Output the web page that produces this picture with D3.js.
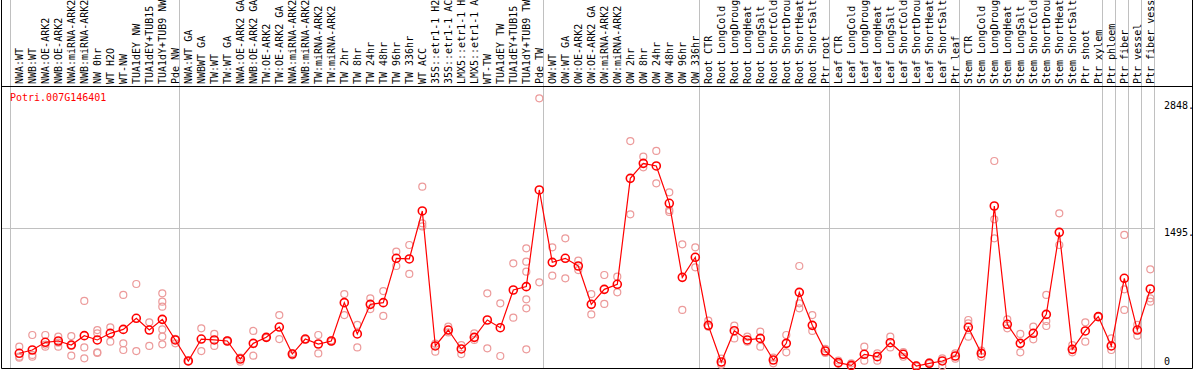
<!DOCTYPE html>
<html>
<head>
<meta charset="utf-8">
<script src="https://d3js.org/d3.v7.min.js"></script>
<style>
body { margin: 0; background: #fff; }
text { font-family: "DejaVu Sans Mono", monospace; font-size: 10px; }
</style>
</head>
<body>
<svg id="chart" width="1194" height="370"></svg>
<script>
// sample labels, left to right
var samples = [
  "NWA:WT", "NWB:WT", "NWA:OE-ARK2", "NWB:OE-ARK2", "NWA:miRNA-ARK2", "NWB:miRNA-ARK2",
  "NW 0hr", "WT H2O", "WT-NW", "TUA1dEY NW", "TUA1dEY+TUB15", "TUA1dY+TUB9 NW", "Pde NW",
  "NWA:WT GA", "NWBWT GA", "TW:WT", "TW:WT GA", "NWA:OE-ARK2 GA", "NWB:OE-ARK2 GA",
  "TW:OE-ARK2", "TW:OE-ARK2 GA", "NWA:miRNA-ARK2 GA", "NWB:miRNA-ARK2 GA", "TW:miRNA-ARK2",
  "TW:miRNA-ARK2 GA", "TW 2hr", "TW 8hr", "TW 24hr", "TW 48hr", "TW 96hr", "TW 336hr",
  "WT ACC", "35S::etr1-1 H2O", "35S::etr1-1 ACC", "LMX5::etr1-1 H2O", "LMX5::etr1-1 ACC",
  "WT-TW", "TUA1dEY TW", "TUA1dEY+TUB15 TW", "TUA1dY+TUB9 TW", "Pde TW",
  "OW:WT", "OW:WT GA", "OW:OE-ARK2", "OW:OE-ARK2 GA", "OW:miRNA-ARK2", "OW:miRNA-ARK2 GA",
  "OW 2hr", "OW 8hr", "OW 24hr", "OW 48hr", "OW 96hr", "OW 336hr",
  "Root CTR", "Root LongCold", "Root LongDrought", "Root LongHeat", "Root LongSalt",
  "Root ShortCold", "Root ShortDrought", "Root ShortHeat", "Root ShortSalt", "Ptr root",
  "Leaf CTR", "Leaf LongCold", "Leaf LongDrought", "Leaf LongHeat", "Leaf LongSalt",
  "Leaf ShortCold", "Leaf ShortDrought", "Leaf ShortHeat", "Leaf ShortSalt", "Ptr leaf",
  "Stem CTR", "Stem LongCold", "Stem LongDrought", "Stem LongHeat", "Stem LongSalt",
  "Stem ShortCold", "Stem ShortDrought", "Stem ShortHeat", "Stem ShortSalt", "Ptr shoot",
  "Ptr xylem", "Ptr phloem", "Ptr fiber", "Ptr vessel", "Ptr fiber vessel"
];

// index of the first sample of each group (a grey line is drawn before it)
var groupStarts = [0, 13, 41, 53, 63, 73, 84, 85, 86, 87, 88];

// mean expression per sample
var means = [
  157, 192, 274, 288, 245, 345, 299, 370, 412, 530, 405, 519, 299,
  75, 309, 299, 288, 96, 263, 327, 437, 149, 309, 256, 288, 697, 363, 679, 697,
  1170, 1163, 1675, 235, 405, 203, 327, 512, 430, 832, 868, 1899,
  1127, 1170, 1088, 679, 839, 893, 2023, 2183, 2155, 1757, 967, 1181,
  455, 64, 398, 299, 316, 85, 263, 807, 455, 181,
  57, 28, 146, 121, 270, 146, 21, 50, 75, 128,
  434, 156, 1728, 466, 263, 370, 572, 1447, 199, 395, 548,
  235, 957, 405, 843
];

// replicate values per sample
var reps = [
  [227, 121, 110], [352, 139, 121], [352, 227, 250], [334, 227, 270], [341, 131, 245],
  [715, 220, 103], [405, 370, 167, 160], [434, 281], [779, 263, 192], [896, 181],
  [487, 235], [797, 707, 654, 412, 334, 253], [310, 263],
  [75, 70], [423, 181], [363, 235], [295, 285], [68, 110], [395, 131],
  [330, 322], [565, 309], [160, 135], [309, 305], [352, 156],
  [295, 282], [789, 565], [459, 220], [743, 629], [821, 555],
  [1241, 1088], [1312, 1003], [1934, 1543, 1510], [260, 174], [441, 380],
  [245, 149], [370, 300], [797, 210], [690, 128], [1117, 537],
  [1277, 1134, 1027, 733, 637, 199], [2877, 914],
  [1287, 985], [1383, 957], [1145, 1045], [789, 572], [992, 683], [974, 807],
  [2421, 1639], [2254, 2141], [2315, 1970], [1874, 1685, 1665], [1319, 619], [1287, 1074],
  [505, 440], [100, 35], [452, 316], [334, 280], [388, 227], [110, 50], [352, 167],
  [1088, 690, 637], [565, 395], [205, 160],
  [80, 45], [50, 20], [227, 78], [156, 78], [334, 220], [170, 120], [28, 14],
  [60, 45], [103, 21], [156, 100],
  [512, 476, 334], [185, 120], [2208, 1586, 1383], [519, 423], [363, 167],
  [441, 306], [779, 501, 448], [1650, 1312], [245, 167], [487, 281], [548, 548],
  [316, 192], [1419, 839, 619], [459, 345], [1053, 743, 707]
];

var tickVals = [0, 1495, 2848];
var tickLabels = ["0", "1495.", "2848."];
var geneName = "Potri.007G146401";

var svg = d3.select("#chart");
var headerBottom = 86.5, plotBottom = 368.5, right = 1192.5;
var maxChars = 14; // header column only fits this many characters

var x = d3.scaleBand().domain(samples).range([10.5, 1154.5]).padding(0);
var y = d3.scaleLinear().domain([0, 2848]).range([368, 101]);
var px = function(i) { return x(samples[i]) + 8.8; };

// group separators, full height
svg.append("g").selectAll("line")
  .data(groupStarts)
  .enter().append("line")
  .attr("x1", function(k) { return x.range()[0] + k * x.step(); })
  .attr("x2", function(k) { return x.range()[0] + k * x.step(); })
  .attr("y1", 0).attr("y2", plotBottom)
  .attr("stroke", "#c0c0c0").attr("stroke-width", 1);

// horizontal grid at the middle tick
svg.append("line")
  .attr("x1", 1).attr("x2", x.range()[1])
  .attr("y1", Math.round(y(1495)) + 0.5).attr("y2", Math.round(y(1495)) + 0.5)
  .attr("stroke", "#c0c0c0");

// frame
svg.append("path")
  .attr("d", "M1.5,0V" + plotBottom + "H" + right + "V0")
  .attr("fill", "none").attr("stroke", "#000");
svg.append("line")
  .attr("x1", 1).attr("x2", right)
  .attr("y1", headerBottom).attr("y2", headerBottom)
  .attr("stroke", "#000");

// sample labels, rotated
svg.append("g").selectAll("text")
  .data(samples)
  .enter().append("text")
  .attr("transform", function(d, i) { return "translate(" + (px(i) + 3.5) + ",84) rotate(-90)"; })
  .attr("fill", "#000")
  .text(function(d) { return d.slice(0, maxChars); });

// y labels on the right
svg.append("g").selectAll("text")
  .data(tickVals)
  .enter().append("text")
  .attr("x", 1164)
  .attr("y", function(d) { return Math.min(y(d) + 5, 362); })
  .attr("dominant-baseline", "middle")
  .attr("fill", "#000")
  .text(function(d, i) { return tickLabels[i]; });

// gene name
svg.append("text")
  .attr("x", 10).attr("y", 101)
  .attr("fill", "#ff0000")
  .text(geneName);

// replicates
var repPts = [];
reps.forEach(function(r, i) { r.forEach(function(v) { repPts.push([i, v]); }); });
svg.append("g").selectAll("circle")
  .data(repPts)
  .enter().append("circle")
  .attr("cx", function(d) { return px(d[0]); })
  .attr("cy", function(d) { return y(d[1]); })
  .attr("r", 3.5)
  .attr("fill", "none")
  .attr("stroke", "#ec9a9a")
  .attr("stroke-width", 1.2);

// mean line
var line = d3.line()
  .x(function(d, i) { return px(i); })
  .y(function(d) { return y(d); });
svg.append("path")
  .datum(means)
  .attr("d", line)
  .attr("fill", "none")
  .attr("stroke", "#ff0000")
  .attr("stroke-width", 1.2);

svg.append("g").selectAll("circle")
  .data(means)
  .enter().append("circle")
  .attr("cx", function(d, i) { return px(i); })
  .attr("cy", function(d) { return y(d); })
  .attr("r", 4)
  .attr("fill", "none")
  .attr("stroke", "#ff0000")
  .attr("stroke-width", 1.6);
</script>
</body>
</html>
